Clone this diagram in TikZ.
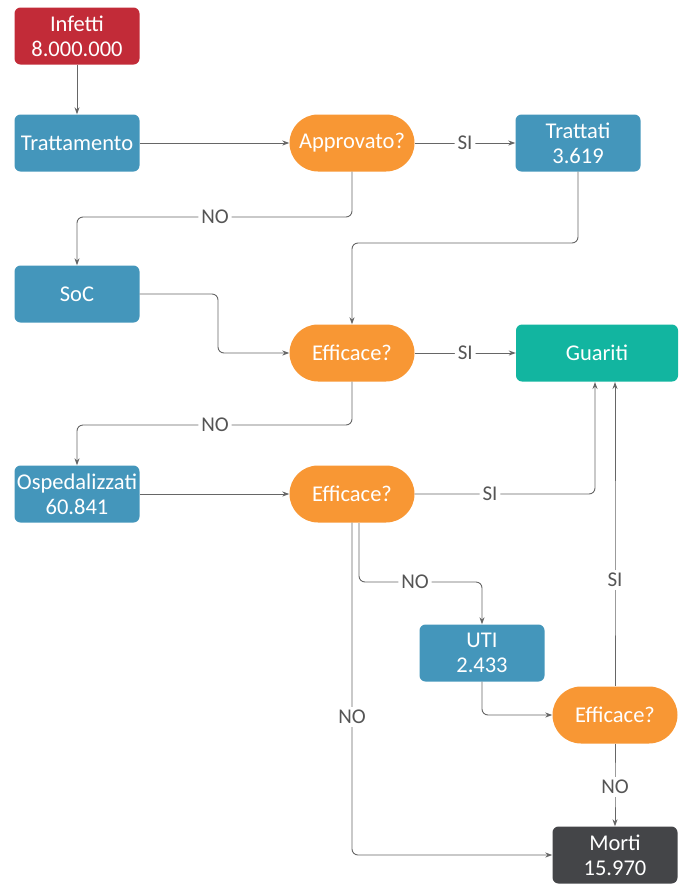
\documentclass[tikz,border=0pt]{standalone}
\usepackage{fontspec}
\setmainfont{Carlito}
\usetikzlibrary{arrows.meta}
\definecolor{cred}{HTML}{C22B38}
\definecolor{cblue}{HTML}{4496BB}
\definecolor{corange}{HTML}{F89734}
\definecolor{cteal}{HTML}{12B5A0}
\definecolor{cdark}{HTML}{444548}
\definecolor{cline}{HTML}{666666}
\definecolor{clabel}{HTML}{555555}
\begin{document}
\begin{tikzpicture}[x=1pt,y=-1pt,
  box/.style={rectangle,rounded corners=6pt,minimum width=125pt,minimum height=57pt,inner sep=0pt,text=white,align=center,font=\fontsize{22.5}{25}\selectfont},
  bluebox/.style={box,fill=cblue},
  pill/.style={box,fill=corange,rounded corners=28.5pt},
  conn/.style={draw=cline,line width=0.9pt,rounded corners=6pt,-{Stealth[length=7pt,width=5pt]}},
  lab/.style={fill=white,text=clabel,font=\fontsize{21}{24}\selectfont,inner sep=3pt}]
\useasboundingbox (0,0) rectangle (686,884);
\node[box,fill=cred] (inf) at (77,36) {Infetti\\8.000.000};
\node[bluebox] (trat) at (77,143) {Trattamento};
\node[pill] (appr) at (352,143) {Approvato?};
\node[bluebox] (tratt) at (578,143) {Trattati\\3.619};
\node[bluebox] (soc) at (77,294) {SoC};
\node[pill] (eff1) at (352,353) {Efficace?};
\node[box,fill=cteal,minimum width=162pt] (guar) at (597,353) {Guariti};
\node[bluebox] (osp) at (77,494) {Ospedalizzati\\60.841};
\node[pill] (eff2) at (352,494) {Efficace?};
\node[bluebox] (uti) at (482,653) {UTI\\2.433};
\node[pill] (eff3) at (615,715) {Efficace?};
\node[box,fill=cdark] (mort) at (615,855) {Morti\\15.970};
\coordinate (g1) at (595,382);
\coordinate (e2a) at (359,523);
% connectors
\draw[conn] (inf) -- (trat);
\draw[conn] (trat) -- (appr);
\draw[conn] (appr) -- node[lab]{SI} (tratt);
\draw[conn] (appr.south) |- (215,217) node[lab]{NO} -| (soc.north);
\draw[conn] (tratt.south) -- (578,243) -- (352,243) -- (eff1.north);
\draw[conn] (soc.east) -| (218,353) -- (eff1.west);
\draw[conn] (eff1) -- node[lab]{SI} (guar);
\draw[conn] (eff1.south) |- (215,425) node[lab]{NO} -| (osp.north);
\draw[conn] (osp) -- (eff2);
\draw[conn] (eff2.east) -- (490,494) node[lab]{SI} -| (g1);
\draw[conn] (e2a) |- (415,582) node[lab]{NO} -| (uti.north);
\draw[conn] (eff2.south) -- (352,717) node[lab]{NO} |- (mort.west);
\draw[conn] (uti.south) |- (eff3.west);
\draw[conn] (eff3.north) -- (615,580) node[lab]{SI} -- (615,382);
\draw[conn] (eff3.south) -- (615,787) node[lab]{NO} -- (mort.north);
\end{tikzpicture}
\end{document}
